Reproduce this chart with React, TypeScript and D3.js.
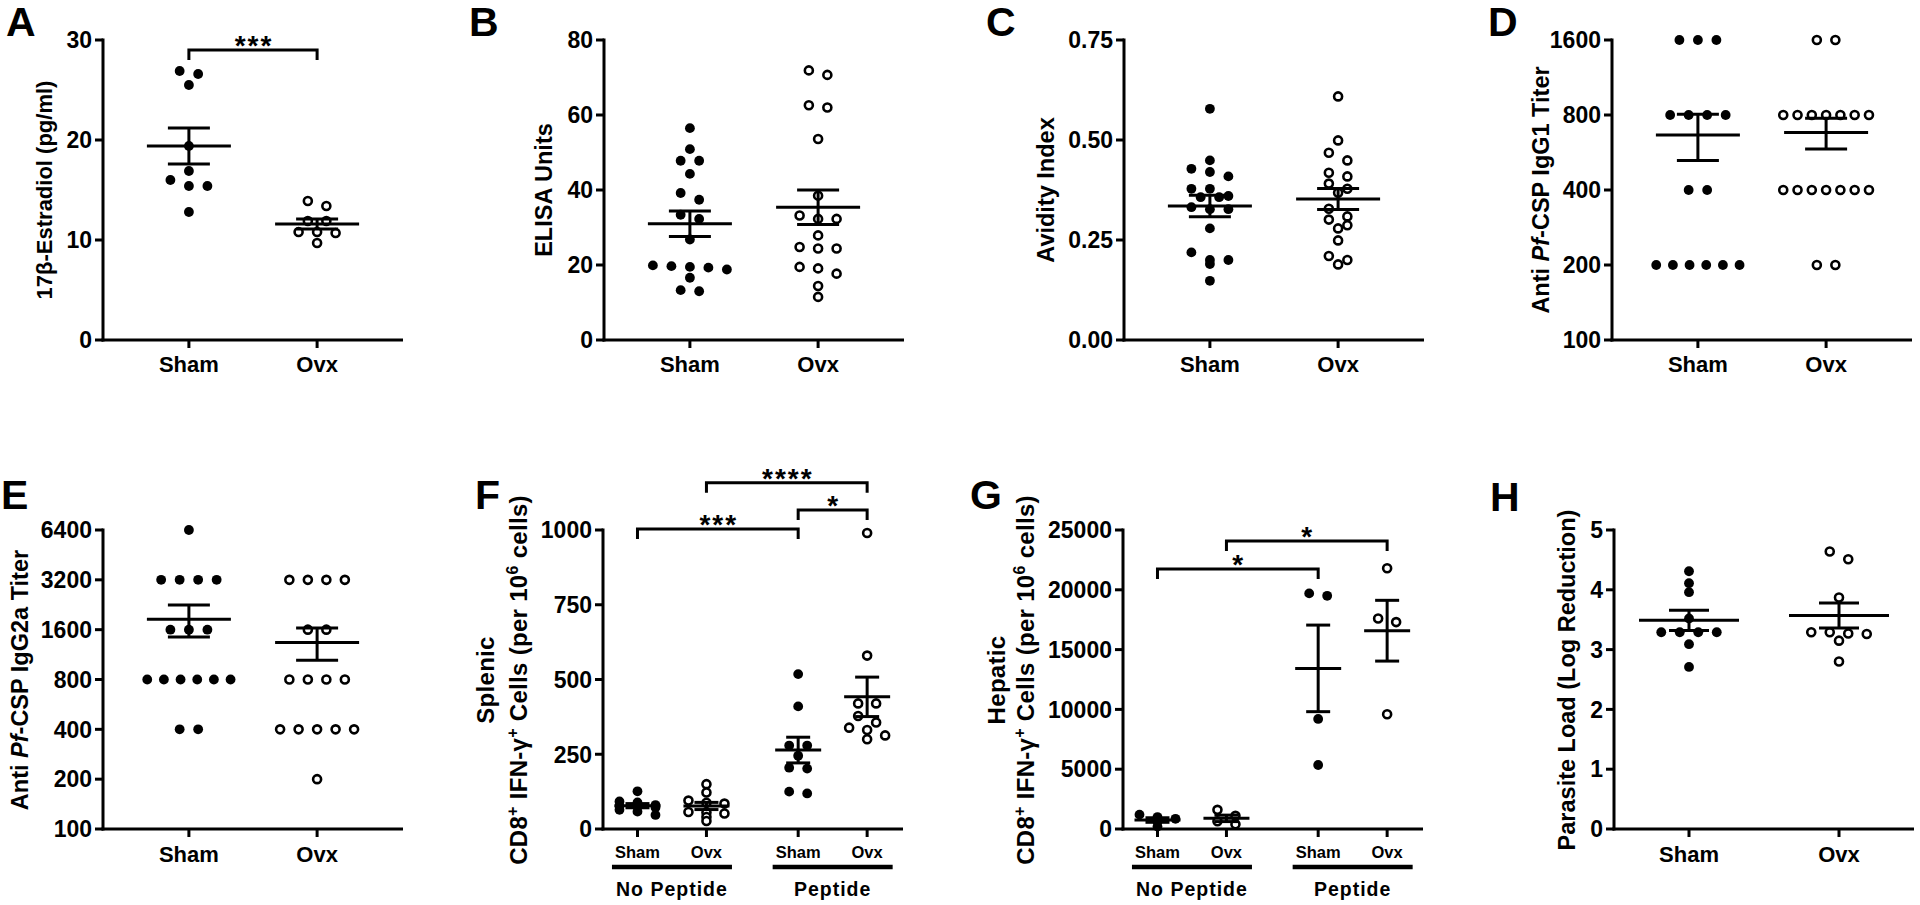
import React from "react";
import * as d3 from "d3";

const FONT = "Arial, 'Liberation Sans', Helvetica, sans-serif";

// ---------------- data ----------------
const twoGroups = ["Sham", "Ovx"];
const fourGroups = ["Sham", "Ovx", "Sham", "Ovx"];
const peptideGroups = ["No Peptide", "Peptide"];

// A – 17β-Estradiol
const estradiolSham = [26.6, 26.9, 25.5, 19.4, 16.9, 16.0, 15.4, 15.4, 12.8];
const estradiolOvx = [13.4, 13.9, 11.9, 11.9, 10.7, 10.8, 10.8, 9.7];
const estradiolMean = [19.4, 11.6];
const estradiolSem = [1.8, 0.5];
const estradiolTicks = [0, 10, 20, 30];

// B – ELISA units
const elisaSham = [56.5, 50.9, 47.8, 47.8, 44.3, 39.2, 37.4, 33.4, 32.3, 26.8, 19.9, 19.7, 19.5, 19.3, 18.8, 16.6, 13.3, 13.0];
const elisaOvx = [71.9, 70.7, 62.6, 62.0, 53.6, 38.5, 33.2, 32.3, 32.3, 27.9, 24.8, 24.4, 24.4, 19.5, 19.1, 17.7, 14.4, 11.5];
const elisaMean = [31.0, 35.4];
const elisaSem = [3.4, 4.6];
const elisaTicks = [0, 20, 40, 60, 80];

// C – Avidity index
const avidSham = [0.578, 0.449, 0.428, 0.42, 0.409, 0.378, 0.378, 0.36, 0.357, 0.357, 0.332, 0.327, 0.327, 0.279, 0.219, 0.2, 0.2, 0.19, 0.148];
const avidOvx = [0.609, 0.499, 0.468, 0.449, 0.418, 0.409, 0.391, 0.378, 0.368, 0.328, 0.309, 0.301, 0.287, 0.279, 0.249, 0.21, 0.2, 0.189];
const avidMean = [0.335, 0.3525];
const avidSem = [0.027, 0.026];
const avidTicks = [0, 0.25, 0.5, 0.75];

// D – IgG1 titer
const igg1Sham = [1600, 1600, 1600, 800, 800, 800, 800, 400, 400, 200, 200, 200, 200, 200, 200];
const igg1Ovx = [1600, 1600, 800, 800, 800, 800, 800, 800, 800, 400, 400, 400, 400, 400, 400, 400, 200, 200];
const igg1Mean = [665, 680];
const igg1Sem = [140, 96];
const igg1Ticks = [100, 200, 400, 800, 1600];

// E – IgG2a titer
const igg2Sham = [6400, 3200, 3200, 3200, 3200, 1600, 1600, 1600, 800, 800, 800, 800, 800, 800, 400, 400];
const igg2Ovx = [3200, 3200, 3200, 3200, 1600, 1600, 800, 800, 800, 800, 400, 400, 400, 400, 400, 200];
const igg2Mean = [1850, 1340];
const igg2Sem = [405, 295];
const igg2Ticks = [100, 200, 400, 800, 1600, 3200, 6400];

// F – Splenic CD8+ IFN-γ+
const splenicShamNP = [126, 92, 89, 80, 77, 74, 72, 64, 58, 47];
const splenicOvxNP = [150, 122, 95, 88, 85, 57, 55, 52, 40, 27];
const splenicShamP = [518, 410, 279, 279, 245, 205, 202, 125, 119];
const splenicOvxP = [990, 580, 420, 420, 378, 356, 339, 331, 313, 300];
const splenicMean = [78, 77, 264, 442];
const splenicSem = [7, 12, 43, 66];
const splenicTicks = [0, 250, 500, 750, 1000];

// G – Hepatic CD8+ IFN-γ+
const hepaticShamNP = [1200, 1000, 850, 600, 200];
const hepaticOvxNP = [1600, 1100, 650, 400];
const hepaticShamP = [19700, 19500, 9200, 5350];
const hepaticOvxP = [21800, 17600, 17300, 9600];
const hepaticMean = [750, 890, 13430, 16580];
const hepaticSem = [190, 270, 3620, 2540];
const hepaticTicks = [0, 5000, 10000, 15000, 20000, 25000];

// H – Parasite load
const parasiteSham = [4.31, 4.11, 3.96, 3.52, 3.29, 3.29, 3.29, 3.29, 3.09, 2.71];
const parasiteOvx = [4.64, 4.51, 3.87, 3.29, 3.27, 3.26, 3.29, 3.15, 2.8];
const parasiteMean = [3.49, 3.57];
const parasiteSem = [0.17, 0.21];
const parasiteTicks = [0, 1, 2, 3, 4, 5];

// ---------------- layout ----------------
const W = 300;
const TICK_FS = 23;

type Bracket = { a: number; b: number; y: number; label: string };
type Group = { values: number[]; filled: boolean };

function swarm(values: number[], y: (v: number) => number, cx: number, s: number, maxCols: number, binPx = 8) {
  const pts = values.map((v) => ({ v, py: y(v) })).sort((a, b) => a.py - b.py);
  const out: { x: number; y: number }[] = [];
  let i = 0;
  while (i < pts.length) {
    let j = i + 1;
    while (j < pts.length && pts[j].py - pts[i].py < binPx) j++;
    const bin = pts.slice(i, j);
    for (let k = 0; k < bin.length; k += maxCols) {
      const chunk = bin.slice(k, k + maxCols);
      const n = chunk.length;
      const sp = n <= 5 ? s : Math.min(s, 100 / n);
      chunk.forEach((p, m) => out.push({ x: cx + (m - (n - 1) / 2) * sp, y: p.py }));
    }
    i = j;
  }
  return out;
}

interface PanelProps {
  letter: string;
  letterX: number;
  letterBase: number;
  x0: number;
  yTop: number;
  yBottom: number;
  log?: boolean;
  domain: [number, number];
  ticks: number[];
  tickFmt?: (v: number) => string;
  xs: number[];
  catLabels: string[];
  catFs: number;
  catBase: number;
  groups: Group[];
  means: number[];
  sems: number[];
  meanHalf: number;
  capHalf: number;
  spacing: number;
  maxCols: number;
  yLabel: { cx: number; node: React.ReactNode }[];
  yLabelCy: number;
  yLabelFs: number;
  yLabelLs?: number;
  brackets?: Bracket[];
  groupBars?: { label: string; a: number; b: number }[];
}

function Panel(p: PanelProps) {
  const y: (v: number) => number = p.log
    ? d3.scaleLog().base(2).domain(p.domain).range([p.yBottom, p.yTop])
    : d3.scaleLinear().domain(p.domain).range([p.yBottom, p.yTop]);
  const fmt = p.tickFmt ?? ((v: number) => String(v));
  const xEnd = p.x0 + W;
  return (
    <g fontFamily={FONT} fontWeight="bold" fill="#000">
      {/* panel letter */}
      <text x={p.letterX} y={p.letterBase} fontSize={41}>{p.letter}</text>

      {/* y axis */}
      <line x1={p.x0} x2={p.x0} y1={p.yTop - 1.5} y2={p.yBottom + 1.5} stroke="#000" strokeWidth={3} />
      {p.ticks.map((t) => (
        <g key={"t" + t}>
          <line x1={p.x0 - 8} x2={p.x0} y1={y(t)} y2={y(t)} stroke="#000" strokeWidth={3} />
          <text x={p.x0 - 11} y={y(t) + 0.36 * TICK_FS} fontSize={TICK_FS} textAnchor="end">{fmt(t)}</text>
        </g>
      ))}
      {/* x axis */}
      <line x1={p.x0 - 1.5} x2={xEnd} y1={p.yBottom} y2={p.yBottom} stroke="#000" strokeWidth={3} />
      {p.xs.map((x, i) => (
        <g key={"x" + i}>
          <line x1={x} x2={x} y1={p.yBottom} y2={p.yBottom + 8} stroke="#000" strokeWidth={3} />
          <text x={x} y={p.catBase} fontSize={p.catFs} textAnchor="middle">{p.catLabels[i]}</text>
        </g>
      ))}

      {/* points */}
      {p.groups.map((g, gi) =>
        swarm(g.values, y, p.xs[gi], p.spacing, p.maxCols).map((pt, k) =>
          g.filled ? (
            <circle key={gi + "-" + k} cx={pt.x} cy={pt.y} r={4.9} fill="#000" />
          ) : (
            <circle key={gi + "-" + k} cx={pt.x} cy={pt.y} r={4.0} fill="#fff" stroke="#000" strokeWidth={2.6} />
          )
        )
      )}

      {/* mean ± SEM */}
      {p.means.map((m, i) => {
        const cx = p.xs[i];
        const hi = y(m + p.sems[i]);
        const lo = y(Math.max(m - p.sems[i], p.log ? p.domain[0] : -Infinity));
        return (
          <g key={"m" + i} stroke="#000" strokeWidth={3}>
            <line x1={cx - p.meanHalf} x2={cx + p.meanHalf} y1={y(m)} y2={y(m)} />
            <line x1={cx} x2={cx} y1={hi} y2={lo} />
            <line x1={cx - p.capHalf} x2={cx + p.capHalf} y1={hi} y2={hi} />
            <line x1={cx - p.capHalf} x2={cx + p.capHalf} y1={lo} y2={lo} />
          </g>
        );
      })}

      {/* significance brackets */}
      {(p.brackets ?? []).map((b, i) => {
        const xa = p.xs[b.a];
        const xb = p.xs[b.b];
        const by = y(b.y);
        return (
          <g key={"b" + i}>
            <path d={`M${xa},${by + 10}V${by}H${xb}V${by + 10}`} fill="none" stroke="#000" strokeWidth={3} />
            <text x={(xa + xb) / 2 + 1} y={by - 11 + 0.58 * 28} fontSize={28} letterSpacing={2} textAnchor="middle">{b.label}</text>
          </g>
        );
      })}

      {/* group bars */}
      {(p.groupBars ?? []).map((gb, i) => {
        const c = (p.xs[gb.a] + p.xs[gb.b]) / 2;
        return (
          <g key={"gb" + i}>
            <line x1={c - 60} x2={c + 60} y1={867} y2={867} stroke="#000" strokeWidth={4.5} />
            <text x={c} y={896} fontSize={19.5} letterSpacing={1} textAnchor="middle">{gb.label}</text>
          </g>
        );
      })}

      {/* y label */}
      {p.yLabel.map((l, i) => (
        <text
          key={"yl" + i}
          transform={`translate(${l.cx + 0.3 * p.yLabelFs},${p.yLabelCy}) rotate(-90)`}
          fontSize={p.yLabelFs}
          letterSpacing={p.yLabelLs ?? 0}
          textAnchor="middle"
        >
          {l.node}
        </text>
      ))}
    </g>
  );
}

const xTwo = (x0: number, pad = 0.67) => {
  const s = d3.scalePoint<string>().domain(twoGroups).range([x0, x0 + W]).padding(pad);
  return twoGroups.map((g) => s(g) as number);
};
const slotsFour = [0.5, 1.5, 2.83, 3.83];
const xFour = (x0: number) => {
  const s = d3.scaleLinear().domain([0, 4.35]).range([x0, x0 + W]);
  return slotsFour.map((v) => s(v));
};

const cd8Label = (
  <>
    CD8<tspan dy={-9} fontSize={16}>+</tspan>
    <tspan dy={9}> IFN-γ</tspan>
    <tspan dy={-9} fontSize={16}>+</tspan>
    <tspan dy={9}> Cells (per 10</tspan>
    <tspan dy={-9} fontSize={16}>6</tspan>
    <tspan dy={9}> cells)</tspan>
  </>
);

export default function App() {
  const top = { yTop: 40, yBottom: 340, catBase: 372, letterBase: 36, cy: 190 };
  const bot = { yTop: 530, yBottom: 829, catBase: 862, letterBase: 509, cy: 680 };
  const common = { meanHalf: 42, capHalf: 21, spacing: 18.5, maxCols: 8, catFs: 22, yLabelFs: 23.5 };
  return (
    <svg width={1920} height={905} style={{ position: "absolute", left: 0, top: 0, background: "#fff" }}>
      <rect width={1920} height={905} fill="#fff" />
      {/* A */}
      <Panel
        {...common}
        yLabelFs={22}
        letter="A" letterX={6} letterBase={top.letterBase}
        x0={103} yTop={top.yTop} yBottom={top.yBottom}
        domain={[0, 30]} ticks={estradiolTicks}
        xs={xTwo(103)} catLabels={twoGroups} catBase={top.catBase}
        groups={[{ values: estradiolSham, filled: true }, { values: estradiolOvx, filled: false }]}
        means={estradiolMean} sems={estradiolSem}
        yLabel={[{ cx: 45, node: "17β-Estradiol (pg/ml)" }]} yLabelCy={top.cy}
        brackets={[{ a: 0, b: 1, y: 29, label: "***" }]}
      />
      {/* B */}
      <Panel
        {...common}
        letter="B" letterX={469} letterBase={top.letterBase}
        x0={604} yTop={top.yTop} yBottom={top.yBottom}
        domain={[0, 80]} ticks={elisaTicks}
        xs={xTwo(604)} catLabels={twoGroups} catBase={top.catBase}
        groups={[{ values: elisaSham, filled: true }, { values: elisaOvx, filled: false }]}
        means={elisaMean} sems={elisaSem}
        yLabel={[{ cx: 545, node: "ELISA Units" }]} yLabelCy={top.cy}
      />
      {/* C */}
      <Panel
        {...common}
        letter="C" letterX={986} letterBase={top.letterBase}
        x0={1124} yTop={top.yTop} yBottom={top.yBottom}
        domain={[0, 0.75]} ticks={avidTicks} tickFmt={d3.format(".2f")}
        xs={xTwo(1124)} catLabels={twoGroups} catBase={top.catBase}
        groups={[{ values: avidSham, filled: true }, { values: avidOvx, filled: false }]}
        means={avidMean} sems={avidSem}
        yLabel={[{ cx: 1047, node: "Avidity Index" }]} yLabelCy={top.cy}
      />
      {/* D */}
      <Panel
        {...common}
        letter="D" letterX={1488} letterBase={top.letterBase}
        x0={1612} yTop={top.yTop} yBottom={top.yBottom}
        log domain={[100, 1600]} ticks={igg1Ticks}
        xs={xTwo(1612)} catLabels={twoGroups} catBase={top.catBase}
        groups={[{ values: igg1Sham, filled: true }, { values: igg1Ovx, filled: false }]}
        means={igg1Mean} sems={igg1Sem}
        yLabel={[{ cx: 1542, node: <>Anti <tspan fontStyle="italic">Pf</tspan>-CSP IgG1 Titer</> }]} yLabelCy={top.cy}
      />
      {/* E */}
      <Panel
        {...common}
        letter="E" letterX={1} letterBase={bot.letterBase}
        x0={103} yTop={bot.yTop} yBottom={bot.yBottom}
        log domain={[100, 6400]} ticks={igg2Ticks}
        xs={xTwo(103)} catLabels={twoGroups} catBase={bot.catBase}
        groups={[{ values: igg2Sham, filled: true }, { values: igg2Ovx, filled: false }]}
        means={igg2Mean} sems={igg2Sem}
        yLabel={[{ cx: 21, node: <>Anti <tspan fontStyle="italic">Pf</tspan>-CSP IgG2a Titer</> }]} yLabelCy={bot.cy}
      />
      {/* F */}
      <Panel
        letter="F" letterX={475} letterBase={bot.letterBase}
        x0={603} yTop={bot.yTop} yBottom={bot.yBottom}
        domain={[0, 1000]} ticks={splenicTicks}
        xs={xFour(603)} catLabels={fourGroups} catFs={16.5} catBase={858}
        groups={[
          { values: splenicShamNP, filled: true },
          { values: splenicOvxNP, filled: false },
          { values: splenicShamP, filled: true },
          { values: splenicOvxP, filled: false },
        ]}
        means={splenicMean} sems={splenicSem}
        meanHalf={23} capHalf={12} spacing={18} maxCols={3}
        yLabelFs={24} yLabelLs={0.3}
        yLabel={[{ cx: 487, node: "Splenic" }, { cx: 520, node: cd8Label }]} yLabelCy={bot.cy}
        brackets={[
          { a: 1, b: 3, y: 1158, label: "****" },
          { a: 2, b: 3, y: 1067, label: "*" },
          { a: 0, b: 2, y: 1003, label: "***" },
        ]}
        groupBars={[{ label: peptideGroups[0], a: 0, b: 1 }, { label: peptideGroups[1], a: 2, b: 3 }]}
      />
      {/* G */}
      <Panel
        letter="G" letterX={970} letterBase={bot.letterBase}
        x0={1123} yTop={bot.yTop} yBottom={bot.yBottom}
        domain={[0, 25000]} ticks={hepaticTicks}
        xs={xFour(1123)} catLabels={fourGroups} catFs={16.5} catBase={858}
        groups={[
          { values: hepaticShamNP, filled: true },
          { values: hepaticOvxNP, filled: false },
          { values: hepaticShamP, filled: true },
          { values: hepaticOvxP, filled: false },
        ]}
        means={hepaticMean} sems={hepaticSem}
        meanHalf={23} capHalf={12} spacing={18} maxCols={3}
        yLabelFs={24} yLabelLs={0.3}
        yLabel={[{ cx: 998, node: "Hepatic" }, { cx: 1027, node: cd8Label }]} yLabelCy={bot.cy}
        brackets={[
          { a: 1, b: 3, y: 24080, label: "*" },
          { a: 0, b: 2, y: 21740, label: "*" },
        ]}
        groupBars={[{ label: peptideGroups[0], a: 0, b: 1 }, { label: peptideGroups[1], a: 2, b: 3 }]}
      />
      {/* H */}
      <Panel
        {...common}
        meanHalf={50} capHalf={20}
        letter="H" letterX={1490} letterBase={511}
        x0={1614} yTop={bot.yTop} yBottom={bot.yBottom}
        domain={[0, 5]} ticks={parasiteTicks}
        xs={xTwo(1614, 0.5)} catLabels={twoGroups} catBase={bot.catBase}
        groups={[{ values: parasiteSham, filled: true }, { values: parasiteOvx, filled: false }]}
        means={parasiteMean} sems={parasiteSem}
        yLabel={[{ cx: 1568, node: "Parasite Load (Log Reduction)" }]} yLabelCy={bot.cy}
      />
    </svg>
  );
}
